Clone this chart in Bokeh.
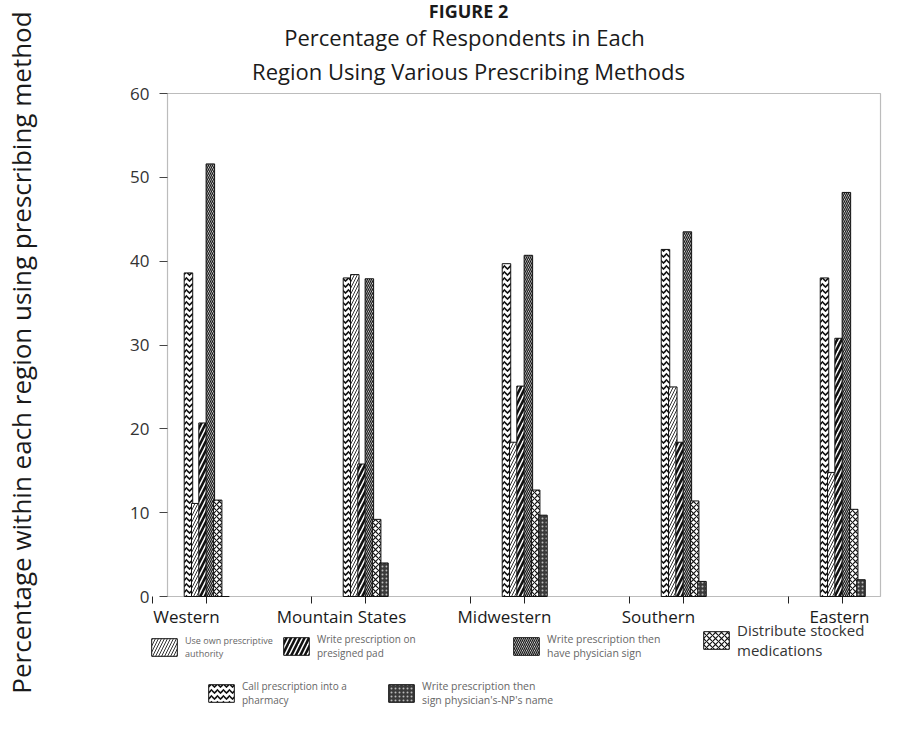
import numpy as np
from bokeh.plotting import figure
from bokeh.models import Range1d, FixedTicker, Legend, LegendItem, Label, BoxAnnotation
from bokeh.embed import file_html
from bokeh.resources import INLINE

# ---------------- data ----------------
regions = ["Western", "Mountain States", "Midwestern", "Southern", "Eastern"]
call_pharmacy = [38.6, 38.0, 39.7, 41.4, 38.0]
own_authority = [11.1, 38.4, 18.4, 25.0, 14.8]
presigned_pad = [20.7, 15.8, 25.1, 18.4, 30.8]
physician_sign = [51.6, 37.9, 40.7, 43.5, 48.2]
stocked_meds = [11.5, 9.2, 12.7, 11.4, 10.4]
sign_name = [0.0, 4.0, 9.7, 1.8, 2.0]
y_ticks = [0, 10, 20, 30, 40, 50, 60]

legend_labels = [
    "Use own prescriptive\nauthority",
    "Write prescription on\npresigned pad",
    "Write prescription then\nhave physician sign",
    "Distribute stocked\nmedications",
    "Call prescription into a\npharmacy",
    "Write prescription then\nsign physician's-NP's name",
]
title_lines = ["FIGURE 2", "Percentage of Respondents in Each",
               "Region Using Various Prescribing Methods"]
y_label = "Percentage within each region using prescribing method"

FONT = "Open Sans"
W, H = 889, 738
# plot region in canvas pixels
L, R, T, B = 167, 880, 93, 596
X0, X1, Y0, Y1 = -0.245, 4.239, 0, 60
sx = (R - L) / (X1 - X0)
sy = (B - T) / (Y1 - Y0)
PX = sx

p = figure(width=W, height=H, output_backend="svg", toolbar_location=None,
           x_range=Range1d(X0 - L / sx, X1 + (W - R) / sx),
           y_range=Range1d(Y0 - (H - B) / sy, Y1 + T / sy),
           min_border=0)
p.outline_line_color = None
p.xgrid.visible = False
p.ygrid.visible = False

# plot-area box
p.add_layout(BoxAnnotation(left=X0, right=X1, bottom=Y0, top=Y1, fill_color=None,
                           fill_alpha=0, line_color="#222222", line_width=1.2,
                           level="underlay"))

idx = np.arange(len(regions))
bw = 8.5 / PX

styles = [
    dict(fill_color="white", hatch_pattern="/", hatch_scale=6, hatch_weight=1.0, hatch_color="#333"),
    dict(fill_color="white", hatch_pattern="/", hatch_scale=9, hatch_weight=2.6, hatch_color="#111"),
    dict(fill_color="white", hatch_pattern="\\", hatch_scale=4, hatch_weight=1.3, hatch_color="#1a1a1a"),
    dict(fill_color="white", hatch_pattern="x", hatch_scale=6, hatch_weight=1.2, hatch_color="#111"),
    dict(fill_color="white", hatch_pattern="v", hatch_scale=6, hatch_weight=1.6, hatch_color="#111"),
    dict(fill_color="#3a3a3a", hatch_pattern=".", hatch_scale=4, hatch_weight=1.0, hatch_color="#bbbbbb"),
]
values = [own_authority, presigned_pad, physician_sign, stocked_meds, call_pharmacy, sign_name]
offsets_px = [-10.7, -3.4, 3.9, 11.2, -18.0, 18.5]
draw_order = [4, 0, 1, 2, 3, 5]

renderers = {}
for k in draw_order:
    renderers[k] = p.vbar(x=idx + offsets_px[k] / PX, top=values[k], bottom=0, width=bw,
                          line_color="#111", line_width=1, **styles[k])

# ---------------- axes (drawn at fixed positions inside the canvas) ----------------
label_offsets = [-20, -24, -20, -25, -3]
label_pos = [i + o / PX for i, o in enumerate(label_offsets)]
minor = [i + o / PX for i in range(5) for o in (-54, 0)]
xa = p.xaxis[0]
xa.fixed_location = Y0
xa.ticker = FixedTicker(ticks=label_pos, minor_ticks=minor)
xa.major_label_overrides = {float(v): regions[i] for i, v in enumerate(label_pos)}
xa.major_tick_out = 0
xa.major_tick_in = 0
xa.minor_tick_out = 7
xa.minor_tick_in = 0
xa.major_label_standoff = 1
xa.major_label_text_font = FONT
xa.major_label_text_font_size = "17px"
xa.major_label_text_color = "#1a1a1a"
xa.axis_line_color = None
xa.minor_tick_line_color = "#222"

ya = p.yaxis[0]
ya.fixed_location = X0
ya.ticker = FixedTicker(ticks=y_ticks, minor_ticks=[])
ya.major_tick_out = 8
ya.major_tick_in = 0
ya.major_tick_line_color = "#444"
ya.major_label_standoff = 10
ya.major_label_text_font = FONT
ya.major_label_text_font_size = "17px"
ya.major_label_text_color = "#333"
ya.axis_line_color = None

p.add_layout(Label(x=20, y=H - 352, x_units="screen", y_units="screen", text=y_label,
                   angle=np.pi / 2, text_align="center", text_baseline="middle",
                   text_font=FONT, text_font_size="26px", text_color="#1a1a1a"))

# ---------------- title ----------------
for txt, (xx, yy), fs, fw in [(title_lines[0], (468, 10), "18px", "bold"),
                              (title_lines[1], (464, 36), "22px", "normal"),
                              (title_lines[2], (468, 70), "22px", "normal")]:
    p.add_layout(Label(x=xx, y=H - yy, x_units="screen", y_units="screen", text=txt,
                       text_align="center", text_baseline="middle", text_font=FONT,
                       text_font_size=fs, text_font_style=fw, text_color="#1a1a1a"))

# ---------------- legend ----------------
legend_locs = [(148, 78), (280, 78), (510, 78), (700, 78), (205, 31), (385, 31)]
legend_fs = ["9px", "10px", "10.5px", "15px", "10px", "10.5px"]
legend_col = ["#666666", "#666666", "#666666", "#333333", "#666666", "#666666"]
for k in range(6):
    lg = Legend(items=[LegendItem(label=legend_labels[k], renderers=[renderers[k]])],
                location=legend_locs[k], glyph_width=32, glyph_height=22,
                label_text_font=FONT, label_text_font_size=legend_fs[k],
                label_text_color=legend_col[k], label_standoff=5,
                label_text_line_height=1.15,
                background_fill_alpha=0, border_line_alpha=0,
                padding=0, margin=0, spacing=0)
    p.add_layout(lg, "center")

open("out.html", "w").write(file_html(p, INLINE))
